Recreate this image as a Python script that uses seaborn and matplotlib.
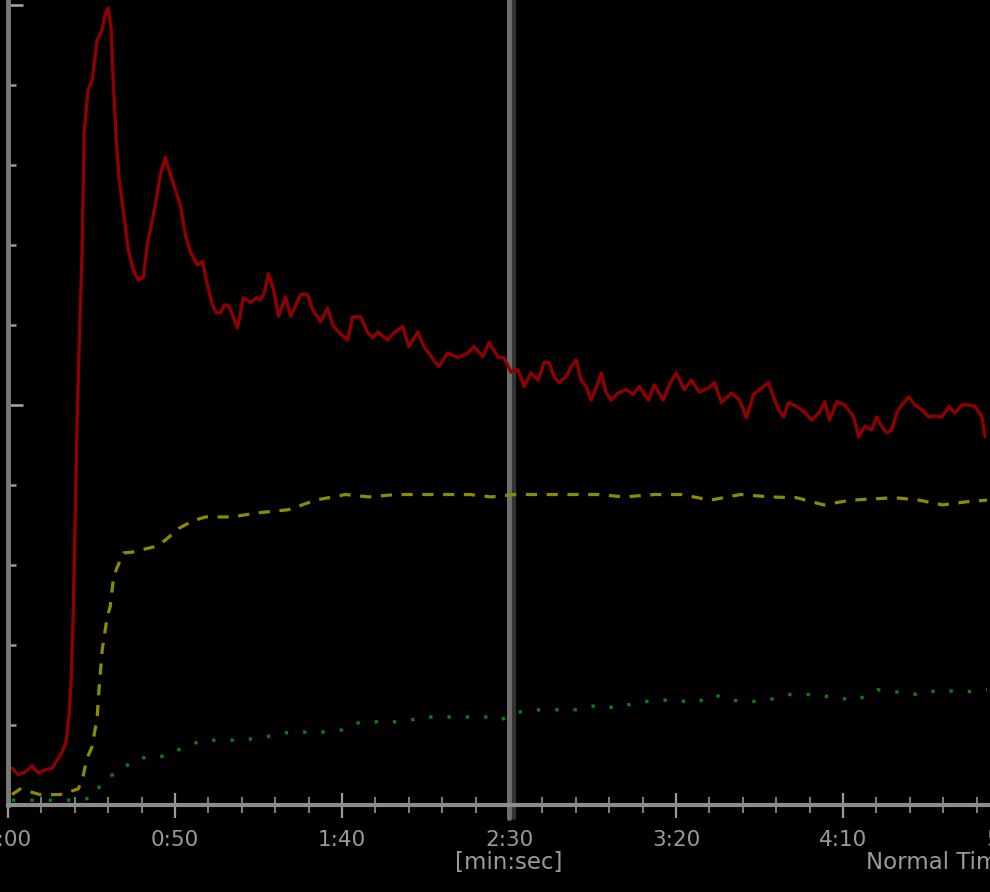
import matplotlib
matplotlib.use("Agg")
import matplotlib.pyplot as plt
import matplotlib.transforms as mtransforms
from matplotlib.ticker import MultipleLocator, FixedLocator
import seaborn as sns
import pandas as pd

# ---------------- data (time in seconds, signal in arbitrary units) ----------------
red_t = [1.2, 3.0, 5.1, 7.2, 9.0, 11.1, 13.2, 14.7, 16.2, 17.4, 18.3, 18.9, 19.5, 20.1, 20.7,
         21.3, 22.2, 22.8, 24.0, 25.2, 26.7, 28.2, 29.1, 30.0, 30.9, 31.5, 32.4, 33.3, 34.5,
         36.0, 37.5, 39.0, 40.5, 41.7, 42.9, 44.1, 45.6, 47.1, 48.6, 50.1, 51.6, 53.1, 54.6,
         56.7, 58.2, 59.7, 61.2, 62.4, 63.6, 64.8, 66.0, 67.2, 68.7, 70.5, 72.6, 74.4, 75.6,
         76.8, 78.0, 79.5, 81.0, 83.1, 84.6, 86.1, 87.6, 89.7, 91.2, 93.6, 95.7, 97.2, 99.0,
         101.7, 103.2, 105.6, 107.7, 109.2, 110.7, 113.7, 115.5, 118.2, 120.0, 122.7, 124.5,
         127.5, 129.0, 131.7, 134.7, 137.7, 139.5, 142.2, 144.0, 146.7, 148.5, 150.6, 152.7,
         154.5, 156.6, 158.7, 160.5, 162.0, 163.5, 165.0, 167.1, 168.6, 170.1, 171.6, 173.1,
         174.6, 176.7, 177.6, 179.1, 180.6, 182.7, 185.1, 187.2, 189.0, 191.7, 193.5, 196.2,
         198.0, 200.1, 202.5, 204.6, 207.0, 209.7, 211.5, 213.6, 216.6, 219.0, 221.1, 223.2,
         225.0, 227.7, 229.2, 230.7, 232.2, 233.7, 236.1, 238.5, 240.6, 243.0, 244.5, 246.0,
         248.1, 250.5, 253.2, 254.7, 256.5, 258.6, 260.1, 261.6, 263.1, 264.6, 266.1, 267.6,
         269.7, 271.5, 273.6, 275.7, 277.5, 279.6, 281.7, 283.5, 285.6, 287.7, 289.5, 291.6,
         292.5]
red_v = [0.46, 0.38, 0.41, 0.49, 0.40, 0.44, 0.46, 0.56, 0.66, 0.79, 1.13, 1.56, 2.31, 3.56, 4.81,
         5.73, 6.94, 8.40, 8.94, 9.06, 9.56, 9.69, 9.88, 9.96, 9.69, 9.06, 8.31, 7.81, 7.44,
         6.94, 6.69, 6.56, 6.59, 7.00, 7.25, 7.50, 7.88, 8.09, 7.88, 7.69, 7.50, 7.13, 6.91,
         6.75, 6.79, 6.50, 6.25, 6.15, 6.15, 6.25, 6.24, 6.13, 5.96, 6.34, 6.28, 6.34, 6.31,
         6.41, 6.64, 6.44, 6.11, 6.35, 6.11, 6.24, 6.38, 6.38, 6.19, 6.04, 6.21, 6.00, 5.91,
         5.81, 6.10, 6.10, 5.90, 5.84, 5.91, 5.81, 5.90, 5.98, 5.73, 5.91, 5.73,
         5.56, 5.48, 5.65, 5.59, 5.65, 5.73, 5.60, 5.78, 5.60, 5.59, 5.41, 5.44,
         5.23, 5.40, 5.31, 5.53, 5.53, 5.35, 5.28, 5.35, 5.48, 5.56, 5.31, 5.23,
         5.06, 5.28, 5.40, 5.15, 5.06, 5.15, 5.19, 5.13, 5.23, 5.06, 5.25, 5.06,
         5.25, 5.40, 5.19, 5.31, 5.16, 5.21, 5.28, 5.03, 5.15, 5.06, 4.84, 5.13,
         5.19, 5.28, 5.10, 4.94, 4.85, 5.03, 4.98, 4.91, 4.81, 4.91, 5.04, 4.81,
         5.04, 5.00, 4.85, 4.60, 4.73, 4.69, 4.85, 4.73, 4.65, 4.69, 4.90, 5.00,
         5.10, 5.00, 4.94, 4.85, 4.86, 4.85, 4.98, 4.90, 5.00, 5.00, 4.98, 4.85,
         4.60]

yellow_t = [1.2, 3.6, 9.6, 15.6, 21.0, 22.2, 23.7, 25.2, 26.7, 27.3, 28.2, 29.7, 30.6, 31.5,
            32.4, 34.5, 37.2, 41.1, 44.1, 47.1, 51.3, 55.2, 59.1, 67.2, 74.4, 84.0, 92.1,
            101.1, 108.0, 116.1, 124.2, 131.1, 138.3, 144.6, 151.8, 159.6, 168.6, 176.7,
            184.5, 193.5, 201.6, 210.3, 219.3, 228.3, 236.1, 244.2, 252.3, 265.5, 272.7,
            279.9, 287.1, 293.1]
yellow_v = [0.13, 0.20, 0.13, 0.13, 0.20, 0.31, 0.59, 0.73, 1.10, 1.48, 1.94, 2.35, 2.48, 2.81,
            2.94, 3.15, 3.16, 3.20, 3.23, 3.31, 3.46, 3.55, 3.60, 3.60, 3.65, 3.69, 3.81,
            3.88, 3.85, 3.88, 3.88, 3.88, 3.88, 3.85, 3.88, 3.88, 3.88, 3.88,
            3.85, 3.88, 3.88, 3.81, 3.88, 3.85, 3.84, 3.75, 3.81, 3.84, 3.81,
            3.75, 3.79, 3.81]

green_t = [1.2, 9.6, 20.7, 25.5, 28.2, 34.2, 39.6, 45.0, 52.2, 58.2, 63.6, 69.9, 77.1, 82.2,
           87.6, 93.9, 100.2, 105.6, 111.6, 117.9, 125.1, 131.1, 137.4, 143.7, 147.3, 152.7,
           158.7, 165.0, 170.4, 176.7, 182.1, 188.1, 194.4, 198.9, 206.1, 211.2, 216.6,
           222.0, 227.4, 233.7, 241.5, 247.8, 254.1, 260.4, 266.4, 272.7, 279.0, 285.3, 293.1]
green_v = [0.06, 0.06, 0.06, 0.09, 0.29, 0.46, 0.59, 0.59, 0.71, 0.81, 0.81, 0.81, 0.85, 0.90,
           0.91, 0.91, 0.94, 1.04, 1.04, 1.04, 1.10, 1.10, 1.10, 1.10, 1.06, 1.16,
           1.19, 1.19, 1.19, 1.25, 1.21, 1.28, 1.31, 1.31, 1.28, 1.38, 1.31,
           1.29, 1.31, 1.38, 1.38, 1.34, 1.31, 1.44, 1.41, 1.38, 1.44, 1.41, 1.44]

cursor_t = 150  # vertical cursor at 2:30
x_major_ticks = [0, 50, 100, 150, 200, 250, 300]
x_tick_labels = ["0:00", "0:50", "1:40", "2:30", "3:20", "4:10", "5:00"]
x_unit_label = "[min:sec]"
mode_label = "Normal Time"

# ---------------- figure ----------------
sns.set_theme(style="dark")
plt.rcParams["font.family"] = ["DejaVu Sans"]

W, H = 990, 892
fig = plt.figure(figsize=(W / 100, H / 100), dpi=100, facecolor="black")
ax = fig.add_axes([8 / W, 87 / H, 982 / W, 805 / H])
ax.set_facecolor("black")

red = pd.DataFrame({"t": red_t, "v": red_v})
yel = pd.DataFrame({"t": yellow_t, "v": yellow_v})
grn = pd.DataFrame({"t": green_t, "v": green_v})

sns.lineplot(data=grn, x="t", y="v", ax=ax, color="#0c800c", linewidth=2.4,
             linestyle=(0, (1.0, 4.5)), estimator=None, sort=False)
sns.lineplot(data=yel, x="t", y="v", ax=ax, color="#8c8c00", linewidth=2.3,
             linestyle=(0, (3.5, 3.0)), estimator=None, sort=False)
ax.axvline(cursor_t, ymin=-0.016, color="#6e6e6e", linewidth=3.6, zorder=1, clip_on=False)
ax.axvline(cursor_t + 1.5, ymin=-0.016, color="#333333", linewidth=3.0, zorder=1, clip_on=False)
sns.lineplot(data=red, x="t", y="v", ax=ax, color="#900000", linewidth=2.4,
             estimator=None, sort=False)

ax.set_xlim(0, 294)
ax.set_ylim(0, 10.06)
ax.set_xlabel("")
ax.set_ylabel("")
ax.grid(False)

for s in ["top", "right"]:
    ax.spines[s].set_visible(False)
ax.spines["bottom"].set_color("#8c8c8c")
ax.spines["bottom"].set_linewidth(3.0)
ax.spines["left"].set_color("#7a7a7a")
ax.spines["left"].set_linewidth(3.5)

FS = 15.5
ax.xaxis.set_major_locator(FixedLocator(x_major_ticks[:-1]))
ax.xaxis.set_minor_locator(MultipleLocator(10))
ax.set_xticklabels(x_tick_labels[:-1])
ax.tick_params(axis="x", which="major", direction="inout", length=18, width=1.6,
               color="#9a9a9a", labelcolor="#9a9a9a", labelsize=FS, pad=9, bottom=True)
ax.tick_params(axis="x", which="minor", direction="inout", length=11, width=1.5,
               color="#7a7a7a", bottom=True)

ax.yaxis.set_major_locator(MultipleLocator(5))
ax.yaxis.set_minor_locator(MultipleLocator(1))
ax.tick_params(axis="y", which="major", direction="in", length=11, width=1.8,
               color="#a8a8a8", labelleft=False, left=True)
ax.tick_params(axis="y", which="minor", direction="in", length=6, width=1.8,
               color="#999999", left=True)

trans = mtransforms.blended_transform_factory(ax.transData, ax.transAxes)
ax.text(x_major_ticks[-1], -0.0435, x_tick_labels[-1], transform=trans, ha="center",
        va="center", color="#9a9a9a", fontsize=FS, clip_on=False)
ax.text(cursor_t, -0.0715, x_unit_label, transform=trans, ha="center", va="center",
        color="#9a9a9a", fontsize=FS + 1, clip_on=False)
ax.text(257, -0.0715, mode_label, transform=trans, ha="left", va="center",
        color="#9a9a9a", fontsize=FS + 1, clip_on=False)

fig.savefig("out.png", dpi=100, facecolor="black")
